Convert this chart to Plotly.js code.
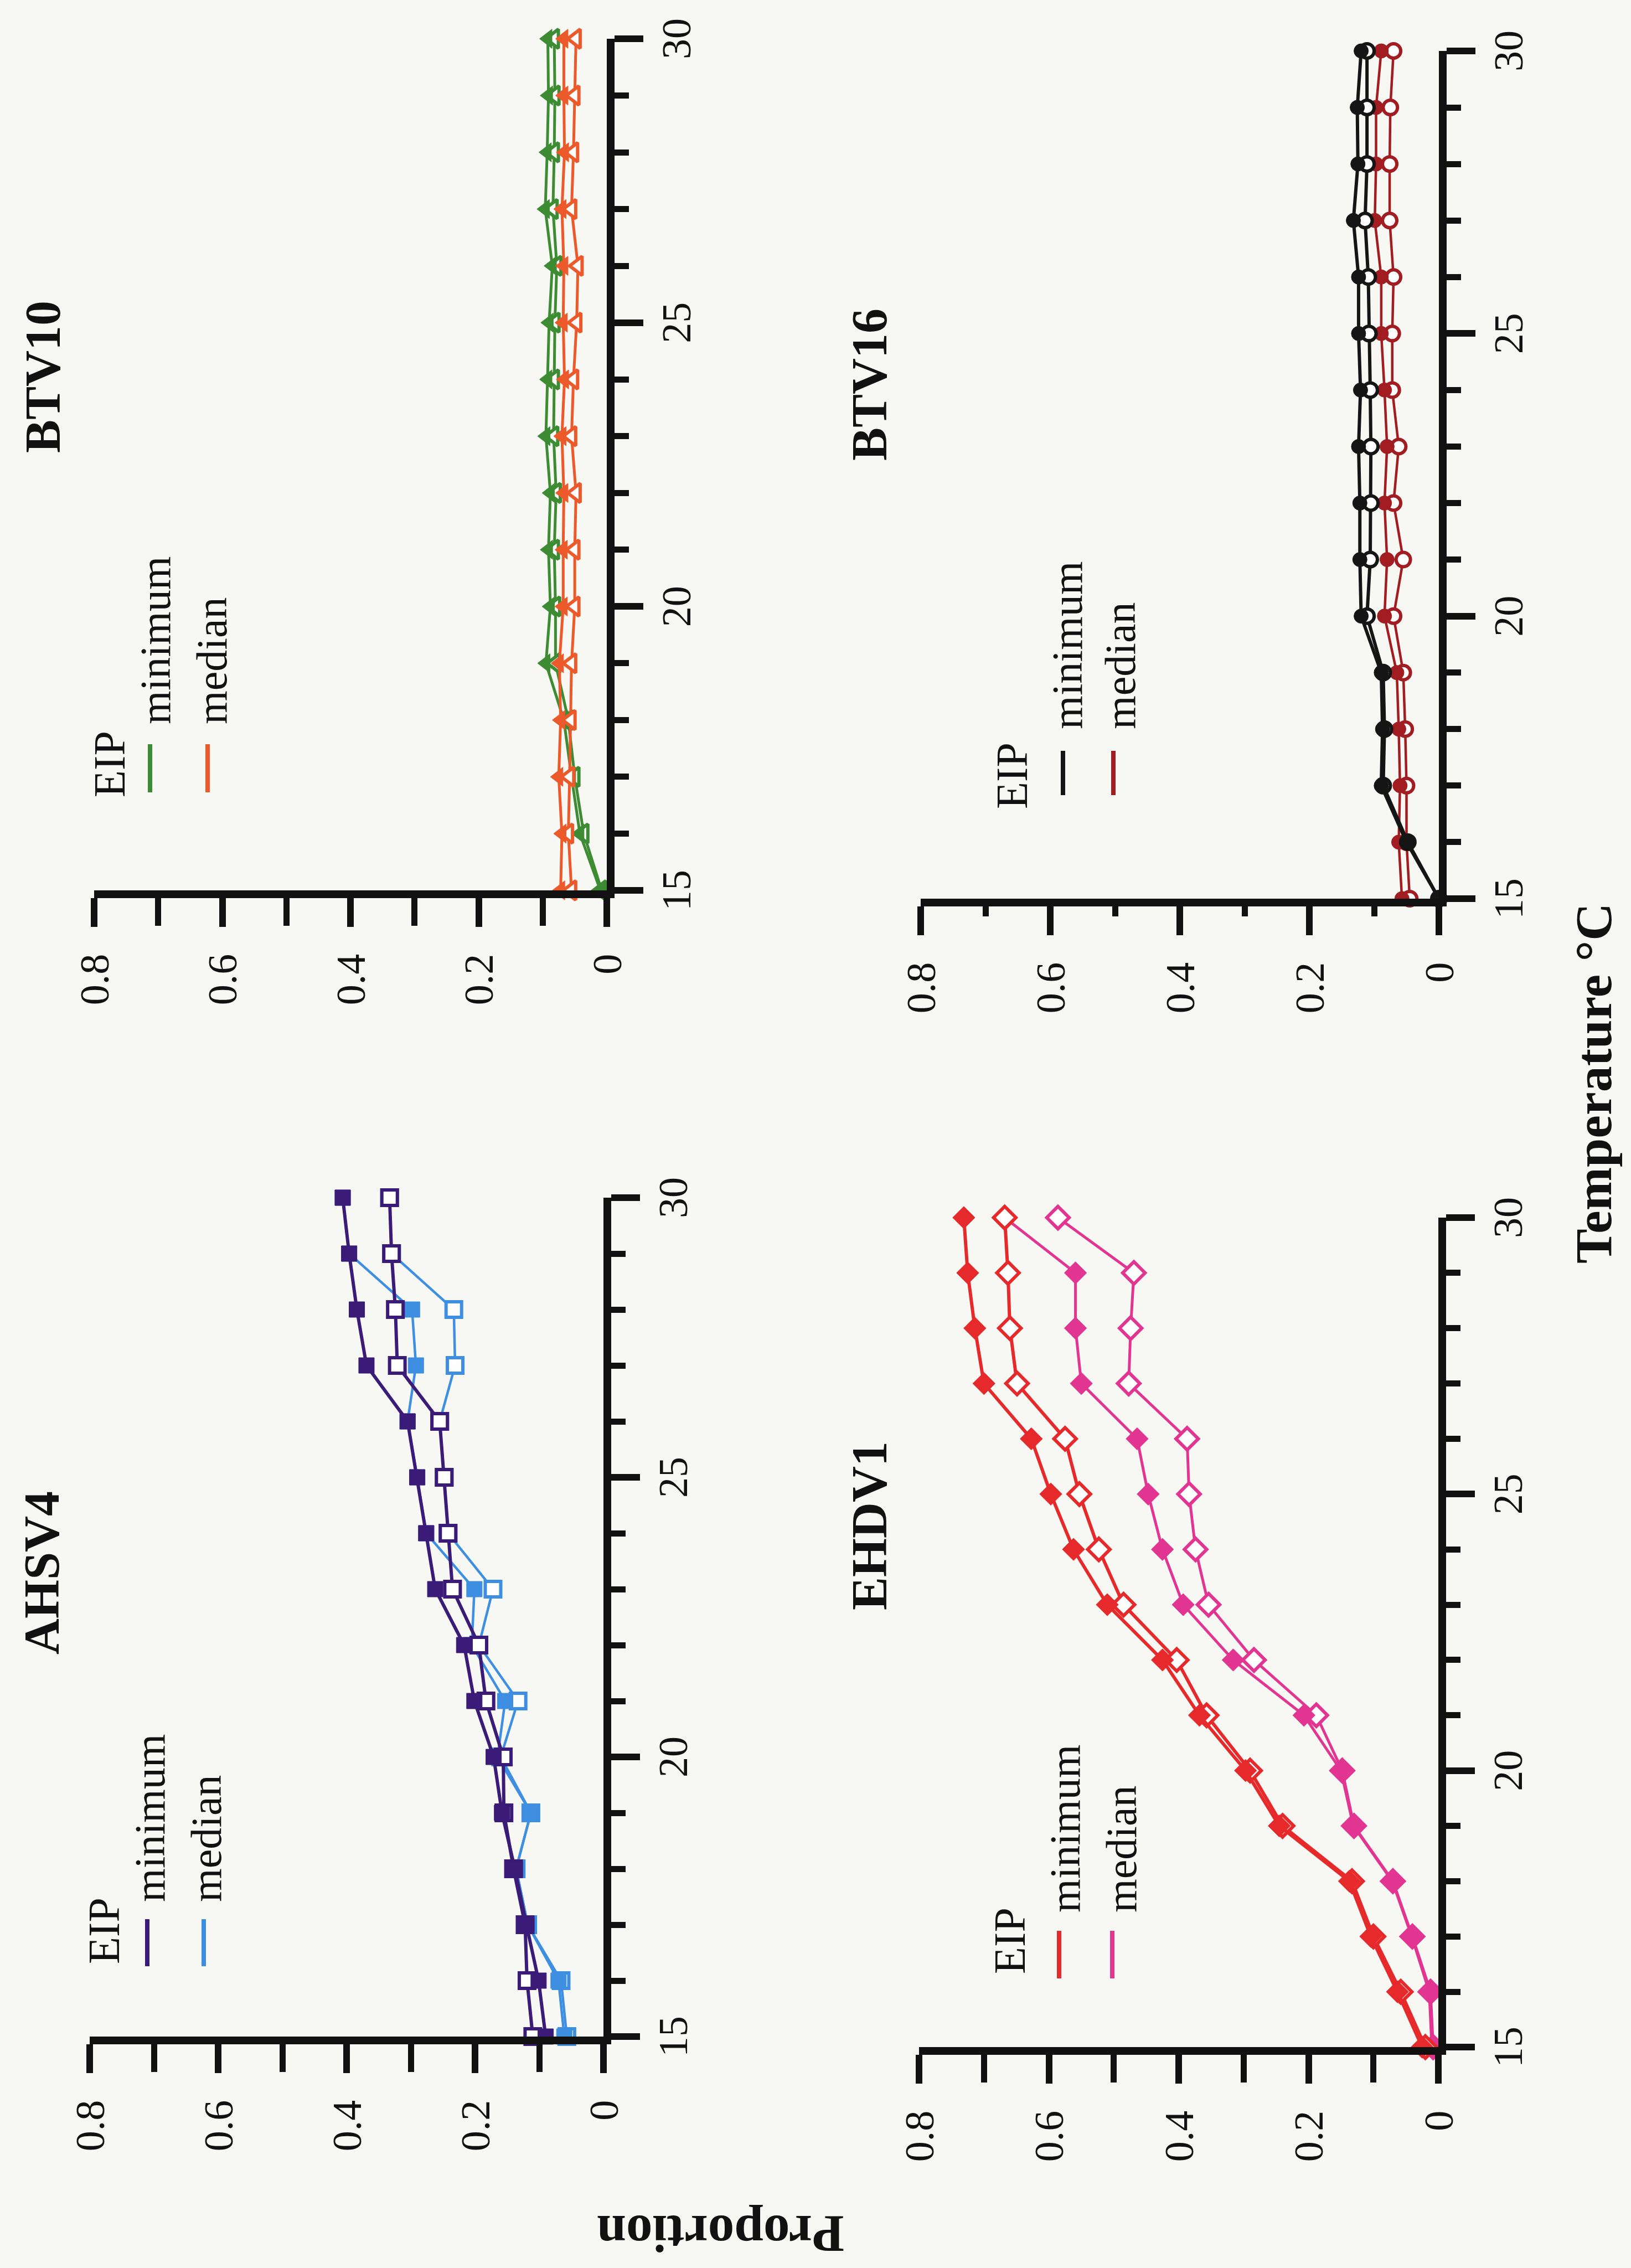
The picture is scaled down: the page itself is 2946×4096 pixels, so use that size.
<!DOCTYPE html>
<html>
<head>
<meta charset="utf-8">
<script src="https://cdn.plot.ly/plotly-3.0.1.min.js"></script>
<style>
html,body{margin:0;padding:0;width:2946px;height:4096px;overflow:hidden;background:#f7f7f3;}
#wrap{position:absolute;left:0;top:0;width:4096px;height:2946px;transform-origin:0 0;transform:translate(0px,4096px) rotate(-90deg);}
#plot{width:4096px;height:2946px;}
</style>
</head>
<body>
<div id="wrap"><div id="plot"></div></div>
<script>
// ---------------- data ----------------
const temperature = [15,16,17,18,19,20,21,22,23,24,25,26,27,28,29,30];

const ahsv4MinimumFilled = [0.090,0.101,0.120,0.138,0.158,0.171,0.201,0.217,0.262,0.276,0.290,0.305,0.369,0.384,0.396,0.406];
const ahsv4MinimumOpen   = [0.110,0.119,0.122,0.140,0.155,0.156,0.183,0.194,0.235,0.242,0.248,0.255,0.321,0.324,0.330,0.333];
const ahsv4MedianFilled  = [0.061,0.070,0.118,0.136,0.113,0.165,0.153,0.205,0.201,0.276,0.290,0.305,0.292,0.298,0.396,0.406];
const ahsv4MedianOpen    = [0.057,0.066,0.118,0.136,0.113,0.160,0.133,0.194,0.172,0.242,0.248,0.255,0.231,0.233,0.330,0.333];

const ehdv1MinimumFilled = [0.025,0.063,0.104,0.137,0.245,0.297,0.368,0.425,0.510,0.562,0.597,0.627,0.700,0.714,0.725,0.731];
const ehdv1MinimumOpen   = [0.020,0.058,0.100,0.133,0.240,0.290,0.357,0.403,0.485,0.523,0.553,0.575,0.649,0.660,0.663,0.668];
const ehdv1MedianFilled  = [0.010,0.014,0.041,0.071,0.131,0.150,0.207,0.316,0.393,0.425,0.447,0.464,0.550,0.559,0.559,0.668];
const ehdv1MedianOpen    = [0.008,0.012,0.040,0.070,0.130,0.148,0.188,0.284,0.354,0.374,0.384,0.387,0.477,0.474,0.469,0.586];

const btv10MinimumFilled = [0.010,0.042,0.055,0.067,0.095,0.088,0.091,0.088,0.095,0.092,0.090,0.085,0.096,0.093,0.091,0.092];
const btv10MinimumOpen   = [0.008,0.036,0.050,0.060,0.080,0.080,0.082,0.079,0.083,0.082,0.081,0.078,0.084,0.082,0.081,0.082];
const btv10MedianFilled  = [0.072,0.070,0.075,0.072,0.074,0.068,0.068,0.067,0.070,0.066,0.068,0.067,0.070,0.066,0.067,0.067];
const btv10MedianOpen    = [0.055,0.060,0.058,0.056,0.055,0.050,0.050,0.048,0.055,0.052,0.047,0.045,0.055,0.052,0.050,0.048];

const btv16MinimumFilled = [0.000,0.050,0.089,0.087,0.089,0.120,0.122,0.122,0.124,0.121,0.124,0.124,0.132,0.125,0.126,0.120];
const btv16MinimumOpen   = [0.000,0.048,0.086,0.084,0.086,0.111,0.106,0.105,0.105,0.106,0.108,0.109,0.114,0.111,0.111,0.111];
const btv16MedianFilled  = [0.057,0.062,0.060,0.062,0.065,0.084,0.080,0.084,0.080,0.084,0.089,0.089,0.099,0.097,0.097,0.089];
const btv16MedianOpen    = [0.045,0.050,0.050,0.052,0.055,0.070,0.055,0.070,0.062,0.072,0.072,0.070,0.076,0.076,0.075,0.070];

const panelTitles = ['AHSV4','EHDV1','BTV10','BTV16'];
const legendTitle = 'EIP';
const legendLabels = ['minimum','median'];
const xAxisTitle = 'Temperature °C';
const yAxisTitle = 'Proportion';
const tempTickVals = [15,20,25,30];
const tempTickText = ['15','20','25','30'];
const tempMinorVals = [16,17,18,19,21,22,23,24,26,27,28,29];
const propTickVals = [0,0.2,0.4,0.6,0.8];
const propTickText = ['0','0.2','0.4','0.6','0.8'];
const propMinorVals = [0.1,0.3,0.5,0.7];

// ---------------- styles / placement ----------------
const W = 4096, H = 2946;
const PX = X => X / W;
const PY = Y => 1 - Y / H;
const FONT = 'Liberation Serif, Times New Roman, serif';

const panels = [
  {title: panelTitles[0], series: [ahsv4MedianOpen, ahsv4MedianFilled, ahsv4MinimumOpen, ahsv4MinimumFilled],
   xPix: [418, 1933], yPix: [162, 1090], minC: '#3b1b78', medC: '#3e8fe2', sym: 'square', size: 28, lw: [4.5, 6],
   shortMinor: false, titlePos: [1255, 75],
   leg: {eip: [547, 188], line: [545, 630], rows: [266, 368], textX: 659, textY: [270, 372]}},
  {title: panelTitles[1], series: [ehdv1MedianOpen, ehdv1MedianFilled, ehdv1MinimumOpen, ehdv1MinimumFilled],
   xPix: [399, 1897], yPix: [1660, 2598], minC: '#e62a2c', medC: '#e23592', sym: 'diamond', size: 31, lw: [5, 6],
   shortMinor: false, titlePos: [1340, 1570],
   leg: {eip: [529, 1824], line: [523, 609], rows: [1913, 2009], textX: 640, textY: [1923, 2025]}},
  {title: panelTitles[2], series: [btv10MinimumOpen, btv10MinimumFilled, btv10MedianOpen, btv10MedianFilled],
   xPix: [2488, 4026], yPix: [170, 1096], minC: '#3d8c33', medC: '#ec5a2b', sym: 'triangle-up', size: 30, lw: [5, 5],
   shortMinor: false, titlePos: [3415, 78], medOnTop: true,
   leg: {eip: [2654, 198], line: [2665, 2752], rows: [271, 375], textX: 2786, textY: [280, 382]}},
  {title: panelTitles[3], series: [btv16MedianOpen, btv16MedianFilled, btv16MinimumOpen, btv16MinimumFilled],
   xPix: [2473, 4004], yPix: [1663, 2599], minC: '#151515', medC: '#a11d22', sym: 'circle', size: 26, lw: [4.5, 6],
   shortMinor: true, titlePos: [3401, 1570],
   leg: {eip: [2633, 1828], line: [2660, 2740], rows: [1920, 2011], textX: 2777, textY: [1927, 2024]}}
];

const traces = [];
const layout = {
  width: W, height: H,
  margin: {l: 0, r: 0, t: 0, b: 0},
  paper_bgcolor: '#f7f7f3', plot_bgcolor: 'rgba(0,0,0,0)',
  showlegend: false,
  font: {family: FONT, color: '#111'},
  annotations: [], shapes: []
};

panels.forEach((p, i) => {
  const k = i === 0 ? '' : String(i + 1);
  const xa = 'x' + k, ya = 'y' + k;
  layout['xaxis' + k] = {
    domain: [PX(p.xPix[0]), PX(p.xPix[1])], anchor: ya,
    range: [15, 30], tickmode: 'array', tickvals: tempTickVals, ticktext: tempTickText,
    ticks: 'outside', ticklen: 52, tickwidth: 12, tickcolor: '#111',
    showline: true, linewidth: 14, linecolor: '#111', showgrid: false, zeroline: false,
    tickfont: {family: FONT, size: 74, color: '#111'}, ticklabelstandoff: -4,
    minor: {tickmode: 'array', tickvals: tempMinorVals, ticks: 'outside', ticklen: 26, tickwidth: 11, tickcolor: '#111', showgrid: false},
    fixedrange: true
  };
  layout['yaxis' + k] = {
    domain: [PY(p.yPix[1]), PY(p.yPix[0])], anchor: xa,
    range: [0, 0.8], tickmode: 'array', tickvals: propTickVals, ticktext: propTickText,
    ticks: 'outside', ticklen: 52, tickwidth: 12, tickcolor: '#111',
    showline: true, linewidth: 14, linecolor: '#111', showgrid: false, zeroline: false,
    tickfont: {family: FONT, size: 74, color: '#111'}, ticklabelstandoff: 34,
    minor: {tickmode: 'array', tickvals: propMinorVals, ticks: 'outside', ticklen: p.shortMinor ? 18 : 50, tickwidth: 11, tickcolor: '#111', showgrid: false},
    fixedrange: true
  };

  const lowC = p.medOnTop ? p.minC : p.medC;
  const topC = p.medOnTop ? p.medC : p.minC;
  const specs = [
    {y: p.series[0], c: lowC, open: true, lw: p.lw[0]},
    {y: p.series[1], c: lowC, open: false, lw: p.lw[0]},
    {y: p.series[2], c: topC, open: true, lw: p.lw[1]},
    {y: p.series[3], c: topC, open: false, lw: p.lw[1]}
  ];
  specs.forEach(s => {
    traces.push({
      type: 'scatter', mode: 'lines+markers', x: temperature, y: s.y, xaxis: xa, yaxis: ya,
      cliponaxis: false, hoverinfo: 'skip',
      line: {color: s.c, width: s.lw},
      marker: {symbol: p.sym, size: p.size, color: s.open ? '#ffffff' : s.c,
               line: {color: s.c, width: s.open ? 6 : 1}}
    });
  });

  layout.annotations.push({xref: 'paper', yref: 'paper', x: PX(p.titlePos[0]), y: PY(p.titlePos[1]),
    xanchor: 'center', yanchor: 'middle', showarrow: false, text: '<b>' + p.title + '</b>',
    font: {family: FONT, size: 90, color: '#111'}});
  layout.annotations.push({xref: 'paper', yref: 'paper', x: PX(p.leg.eip[0]), y: PY(p.leg.eip[1]),
    xanchor: 'left', yanchor: 'middle', showarrow: false, text: legendTitle,
    font: {family: FONT, size: 80, color: '#111'}});
  [p.minC, p.medC].forEach((c, j) => {
    layout.shapes.push({type: 'line', xref: 'paper', yref: 'paper',
      x0: PX(p.leg.line[0]), x1: PX(p.leg.line[1]), y0: PY(p.leg.rows[j]), y1: PY(p.leg.rows[j]),
      line: {color: c, width: 8}});
    layout.annotations.push({xref: 'paper', yref: 'paper', x: PX(p.leg.textX), y: PY(p.leg.textY[j]),
      xanchor: 'left', yanchor: 'middle', showarrow: false, text: legendLabels[j],
      font: {family: FONT, size: 78, color: '#111'}});
  });
});

layout.annotations.push({xref: 'paper', yref: 'paper', x: PX(2139), y: PY(2878), xanchor: 'center', yanchor: 'middle',
  showarrow: false, text: '<b>' + xAxisTitle + '</b>', font: {family: FONT, size: 94, color: '#111'}});
layout.annotations.push({xref: 'paper', yref: 'paper', x: PX(62), y: PY(1302), xanchor: 'center', yanchor: 'middle',
  showarrow: false, textangle: -90, text: '<b>' + yAxisTitle + '</b>', font: {family: FONT, size: 95, color: '#111'}});

Plotly.newPlot('plot', traces, layout, {staticPlot: true, displayModeBar: false});
</script>
</body>
</html>
